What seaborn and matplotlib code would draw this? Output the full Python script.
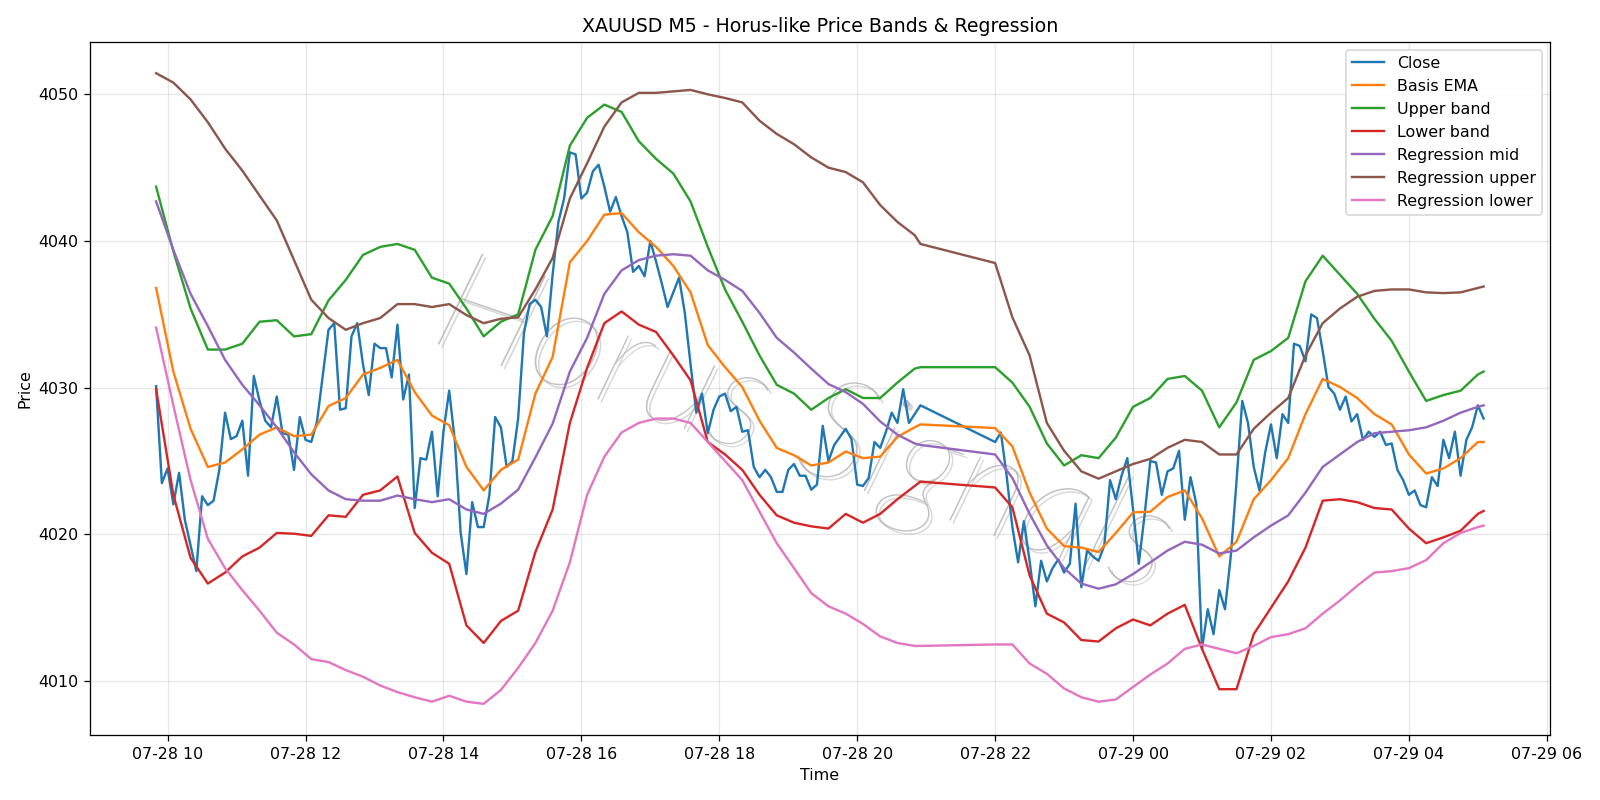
import pandas as pd
import matplotlib
matplotlib.use("Agg")
import matplotlib.pyplot as plt
import matplotlib.dates as mdates
import matplotlib.patheffects as pe
import seaborn as sns

# ======================
# dados (M5, pausa diária 20:55 -> 22:00)
# ======================
close_times = pd.date_range("2025-07-28 09:50", "2025-07-28 20:55", freq="5min").append(
    pd.date_range("2025-07-28 22:00", "2025-07-29 05:05", freq="5min"))

close = [
    4030.1, 4023.5, 4024.5, 4022.05, 4024.2, 4021.0, 4019.25, 4017.5, 4022.6, 4022.0,
    4022.3, 4024.4, 4028.3, 4026.5, 4026.7, 4027.75, 4024.0, 4030.8, 4029.1, 4027.75,
    4027.3, 4029.4, 4026.9, 4026.8, 4024.4, 4028.0, 4026.45, 4026.3, 4027.7, 4030.8,
    4033.95, 4034.4, 4028.5, 4028.6, 4033.5, 4034.4, 4031.6, 4029.5, 4033.0, 4032.7,
    4032.7, 4030.7, 4034.3, 4029.2, 4030.9, 4021.8, 4025.2, 4025.1, 4027.0, 4022.6,
    4027.0, 4029.8, 4026.3, 4020.1, 4017.3, 4022.2, 4020.5, 4020.5, 4022.7, 4028.0,
    4027.3, 4024.6, 4025.0, 4027.9, 4033.7, 4035.7, 4036.0, 4035.5, 4033.5, 4037.7,
    4041.3, 4042.9, 4046.05, 4045.9, 4042.9, 4043.3, 4044.75, 4045.2, 4043.7, 4042.0,
    4043.0, 4041.7, 4040.6, 4037.9, 4038.3, 4037.6, 4040.0, 4038.6, 4037.1, 4035.5,
    4036.5, 4037.5, 4035.1, 4031.6, 4028.3, 4029.6, 4026.9, 4028.5, 4029.4, 4029.6,
    4028.4, 4028.7, 4027.0, 4027.1, 4024.6, 4023.9, 4024.4, 4023.9, 4022.9, 4022.9,
    4024.4, 4024.8, 4024.0, 4024.0, 4023.05, 4023.4, 4027.4, 4025.0, 4026.1, 4026.65,
    4027.2, 4026.5, 4023.4, 4023.3, 4023.85, 4026.3, 4025.9, 4027.0, 4028.3, 4027.6,
    4029.9, 4027.6, 4028.2, 4028.8,
    # 22:00 ->
    4026.3, 4026.95, 4024.0, 4020.5, 4018.1, 4020.9, 4018.2, 4015.1, 4018.2, 4016.8,
    4017.7, 4018.3, 4017.4, 4018.0, 4022.1, 4016.4, 4018.9, 4018.5, 4018.2, 4019.25,
    4023.7, 4022.4, 4024.0, 4025.2, 4021.7, 4018.0, 4021.3, 4025.0, 4024.9, 4022.7,
    4024.3, 4024.5, 4025.7, 4021.0, 4023.9, 4022.1, 4012.2, 4014.9, 4013.2, 4016.2,
    4014.9, 4018.5, 4023.6, 4029.1, 4027.6, 4024.6, 4023.0, 4025.6, 4027.5, 4025.2,
    4028.2, 4027.6, 4033.0, 4032.85, 4031.8, 4035.0, 4034.75, 4032.5, 4030.05, 4029.6,
    4028.5, 4029.4, 4027.7, 4028.2, 4026.45, 4027.0, 4026.65, 4027.0, 4026.1, 4026.2,
    4024.4, 4023.7, 4022.7, 4023.0, 4022.0, 4021.85, 4023.9, 4023.3, 4026.45, 4025.2,
    4027.0, 4024.0, 4026.45, 4027.3, 4028.8, 4027.9,
]

# bandas lidas a cada 15 min
band_times = (pd.date_range("2025-07-28 09:50", "2025-07-28 20:50", freq="15min")
              .append(pd.DatetimeIndex(["2025-07-28 20:55"]))
              .append(pd.date_range("2025-07-28 22:00", "2025-07-29 05:00", freq="15min"))
              .append(pd.DatetimeIndex(["2025-07-29 05:05"])))

basis_ema = [
    4036.8, 4031.1, 4027.2, 4024.6, 4024.9, 4025.8, 4026.8, 4027.3, 4026.7, 4026.8,
    4028.75, 4029.3, 4030.9, 4031.35, 4031.9, 4029.7, 4028.1, 4027.45, 4024.6, 4023.0,
    4024.4, 4025.1, 4029.6, 4032.1, 4038.55, 4040.0, 4041.8, 4041.9, 4040.6, 4039.6,
    4038.3, 4036.5, 4032.9, 4031.4, 4030.05, 4027.75, 4025.9, 4025.4, 4024.7, 4024.9,
    4025.65, 4025.2, 4025.3, 4026.65, 4027.3, 4027.5,
    4027.25, 4026.0, 4022.85, 4020.4, 4019.2, 4019.1, 4018.8, 4020.1, 4021.5, 4021.55,
    4022.55, 4023.0, 4021.1, 4018.5, 4019.5, 4022.4, 4023.7, 4025.2, 4028.2, 4030.6,
    4030.05, 4029.3, 4028.2, 4027.5, 4025.45, 4024.15, 4024.5, 4025.2, 4026.3, 4026.3,
]
upper_band = [
    4043.7, 4039.3, 4035.4, 4032.6, 4032.6, 4033.0, 4034.5, 4034.6, 4033.5, 4033.65,
    4035.95, 4037.35, 4039.05, 4039.6, 4039.8, 4039.4, 4037.5, 4037.1, 4035.4, 4033.5,
    4034.5, 4035.0, 4039.4, 4041.7, 4046.5, 4048.4, 4049.3, 4048.8, 4046.8, 4045.6,
    4044.6, 4042.7, 4039.6, 4036.7, 4034.5, 4032.2, 4030.2, 4029.6, 4028.5, 4029.3,
    4029.9, 4029.3, 4029.3, 4030.35, 4031.3, 4031.4,
    4031.4, 4030.35, 4028.7, 4026.2, 4024.7, 4025.4, 4025.2, 4026.6, 4028.7, 4029.3,
    4030.6, 4030.8, 4029.8, 4027.3, 4029.0, 4031.9, 4032.5, 4033.4, 4037.25, 4039.0,
    4037.7, 4036.4, 4034.7, 4033.2, 4031.1, 4029.1, 4029.5, 4029.8, 4030.9, 4031.1,
]
lower_band = [
    4029.9, 4022.7, 4018.4, 4016.65, 4017.4, 4018.5, 4019.1, 4020.1, 4020.05, 4019.9,
    4021.3, 4021.2, 4022.7, 4023.0, 4023.95, 4020.1, 4018.75, 4018.0, 4013.8, 4012.6,
    4014.1, 4014.8, 4018.8, 4021.7, 4027.6, 4031.35, 4034.4, 4035.2, 4034.3, 4033.8,
    4032.2, 4030.5, 4026.3, 4025.45, 4024.4, 4022.7, 4021.3, 4020.8, 4020.55, 4020.4,
    4021.4, 4020.8, 4021.4, 4022.4, 4023.3, 4023.6,
    4023.2, 4021.85, 4017.2, 4014.6, 4014.0, 4012.8, 4012.7, 4013.6, 4014.2, 4013.8,
    4014.6, 4015.2, 4012.2, 4009.45, 4009.45, 4013.2, 4015.0, 4016.8, 4019.1, 4022.3,
    4022.4, 4022.2, 4021.8, 4021.7, 4020.4, 4019.4, 4019.8, 4020.25, 4021.4, 4021.6,
]
reg_mid = [
    4042.7, 4039.4, 4036.4, 4034.2, 4031.9, 4030.2, 4028.8, 4027.3, 4025.6, 4024.1,
    4023.0, 4022.4, 4022.3, 4022.3, 4022.65, 4022.4, 4022.2, 4022.4, 4021.7, 4021.4,
    4022.1, 4023.05, 4025.25, 4027.55, 4031.1, 4033.4, 4036.4, 4038.0, 4038.7, 4039.0,
    4039.1, 4039.0, 4038.0, 4037.35, 4036.6, 4035.1, 4033.4, 4032.4, 4031.3, 4030.25,
    4029.7, 4028.9, 4027.7, 4026.8, 4026.2, 4026.1,
    4025.45, 4023.85, 4021.4, 4019.25, 4017.7, 4016.65, 4016.3, 4016.6, 4017.3, 4018.1,
    4018.9, 4019.5, 4019.3, 4018.7, 4018.9, 4019.8, 4020.6, 4021.3, 4022.85, 4024.6,
    4025.45, 4026.3, 4026.9, 4027.0, 4027.1, 4027.3, 4027.75, 4028.3, 4028.7, 4028.8,
]
reg_upper = [
    4051.44, 4050.8, 4049.65, 4048.1, 4046.3, 4044.8, 4043.1, 4041.4, 4038.7, 4036.0,
    4034.75, 4033.95, 4034.4, 4034.75, 4035.7, 4035.7, 4035.5, 4035.7, 4034.95, 4034.4,
    4034.7, 4034.8, 4036.7, 4038.85, 4042.9, 4045.3, 4047.8, 4049.45, 4050.1, 4050.1,
    4050.2, 4050.3, 4050.0, 4049.75, 4049.45, 4048.2, 4047.3, 4046.6, 4045.7, 4045.0,
    4044.7, 4044.0, 4042.45, 4041.3, 4040.4, 4039.8,
    4038.5, 4034.8, 4032.2, 4027.6, 4025.7, 4024.3, 4023.8, 4024.3, 4024.8, 4025.15,
    4025.9, 4026.45, 4026.3, 4025.45, 4025.45, 4027.2, 4028.3, 4029.3, 4032.2, 4034.4,
    4035.4, 4036.2, 4036.6, 4036.7, 4036.7, 4036.5, 4036.45, 4036.5, 4036.8, 4036.9,
]
reg_lower = [
    4034.1, 4028.8, 4023.7, 4019.7, 4017.7, 4016.2, 4014.8, 4013.3, 4012.5, 4011.5,
    4011.3, 4010.75, 4010.3, 4009.7, 4009.25, 4008.9, 4008.6, 4009.0, 4008.6, 4008.45,
    4009.4, 4010.9, 4012.6, 4014.8, 4018.1, 4022.7, 4025.3, 4026.95, 4027.6, 4027.9,
    4027.9, 4027.6, 4026.3, 4025.0, 4023.7, 4021.55, 4019.4, 4017.7, 4016.0, 4015.1,
    4014.6, 4013.9, 4013.05, 4012.6, 4012.4, 4012.4,
    4012.5, 4012.5, 4011.2, 4010.5, 4009.5, 4008.9, 4008.6, 4008.75, 4009.6, 4010.45,
    4011.2, 4012.2, 4012.5, 4012.2, 4011.9, 4012.4, 4013.0, 4013.2, 4013.6, 4014.6,
    4015.5, 4016.5, 4017.4, 4017.5, 4017.7, 4018.25, 4019.4, 4020.1, 4020.5, 4020.6,
]

df_close = pd.DataFrame({"time": close_times, "close": close})
df_bands = pd.DataFrame({
    "time": band_times,
    "Basis EMA": basis_ema,
    "Upper band": upper_band,
    "Lower band": lower_band,
    "Regression mid": reg_mid,
    "Regression upper": reg_upper,
    "Regression lower": reg_lower,
})

# ======================
# gráfico
# ======================
fig, ax = plt.subplots(figsize=(14, 7), dpi=1600 / 14)

sns.lineplot(data=df_close, x="time", y="close", color="C0", label="Close", ax=ax)
for k, col in enumerate(["Basis EMA", "Upper band", "Lower band",
                         "Regression mid", "Regression upper", "Regression lower"]):
    sns.lineplot(data=df_bands, x="time", y=col, color=f"C{k + 1}", label=col, ax=ax)

# marca d'água
ax.text(0.489, 0.44, "Horus Signals", transform=ax.transAxes, fontsize=90,
        rotation=-19, ha="center", va="center", color="#a8a8a8", alpha=0.7,
        style="italic", family=["Lato", "DejaVu Sans"], fontweight="light", zorder=0,
        path_effects=[pe.withSimplePatchShadow(offset=(2, -2), shadow_rgbFace="gray", alpha=0.3)])

ax.xaxis.set_major_locator(mdates.HourLocator(byhour=range(0, 24, 2)))
ax.xaxis.set_major_formatter(mdates.DateFormatter("%m-%d %H"))
ax.set_title("XAUUSD M5 - Horus-like Price Bands & Regression")
ax.set_xlabel("Time")
ax.set_ylabel("Price")
ax.grid(True, alpha=0.3)
ax.legend(loc="upper right")
plt.tight_layout()
plt.savefig("out.png")
